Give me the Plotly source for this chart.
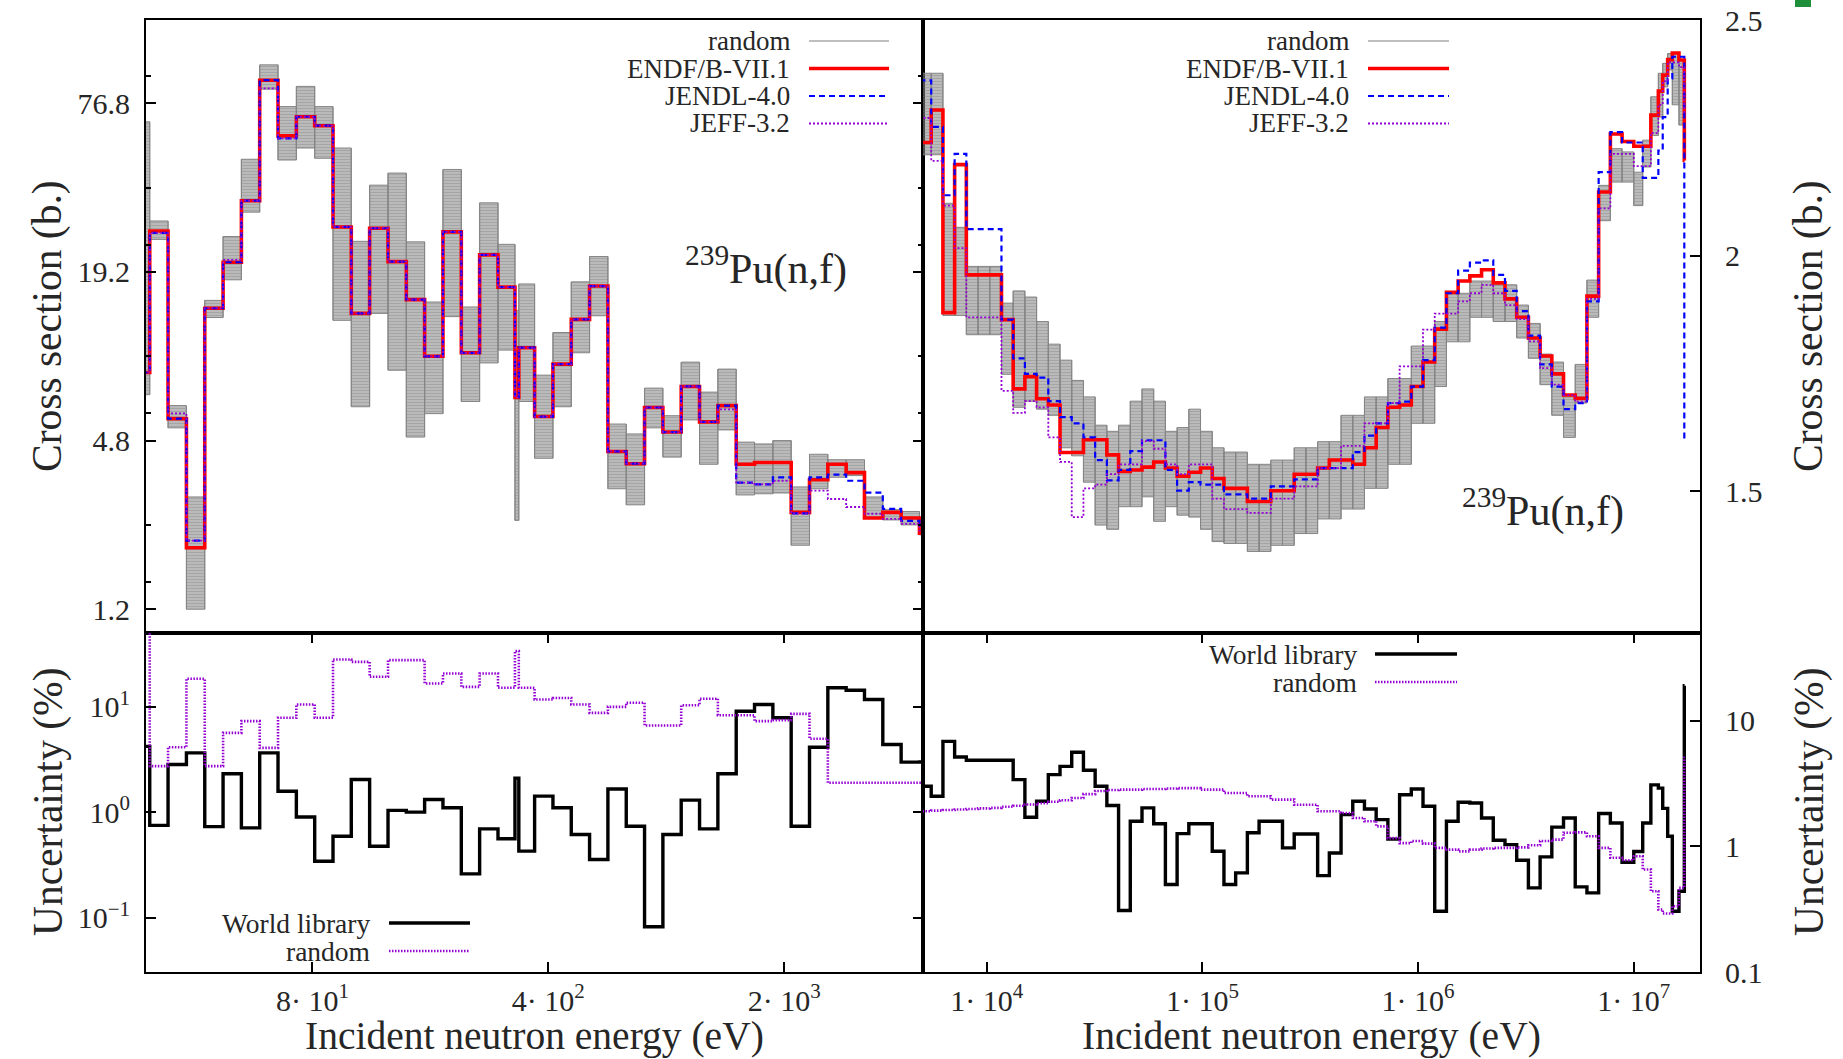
import plotly.graph_objects as go

# ---------------- data : left panels (resonance range) ----------------
E_LEFT = [23.28, 26.38, 29.89, 33.88, 38.39, 43.50, 49.29, 55.85, 63.28, 71.71,
          81.26, 92.08, 104.3, 118.2, 134.0, 151.8, 172.0, 194.9, 220.9, 250.3,
          283.7, 318.5, 327.0, 364.2, 412.7, 467.6, 529.8, 600.4, 680.4, 770.9,
          873.6, 989.9, 1121.8, 1271.1, 1440.4, 1632.1, 1849.5, 2095.7, 2374.8, 2691.0,
          3049.2, 3455.2, 3915.3, 4436.6, 5027.4, 5696.8]

ENDF_LEFT = [8.4, 26.9, 5.75, 1.99, 14.25, 20.8, 34.5, 92.9, 58.8, 68.8,
             63.9, 27.8, 13.66, 27.5, 20.9, 15.3, 9.6, 26.7, 9.88, 22.1,
             16.95, 6.85, 10.3, 5.85, 9.0, 13.0, 17.1, 4.39, 3.97, 6.3,
             5.15, 7.49, 5.6, 6.4, 3.95, 4.01, 4.01, 2.66, 3.48, 3.95,
             3.69, 2.54, 2.66, 2.54, 2.24]
JENDL_LEFT = [8.4, 26.5, 5.75, 2.11, 14.25, 20.8, 34.5, 92.9, 57.6, 68.8,
              63.9, 27.8, 13.66, 27.5, 20.9, 15.3, 9.6, 26.7, 9.88, 22.1,
              16.95, 6.85, 10.3, 5.85, 9.0, 13.0, 17.1, 4.39, 3.97, 6.3,
              5.15, 7.49, 5.6, 6.4, 3.4, 3.35, 3.55, 2.64, 3.55, 3.63,
              3.45, 3.13, 2.74, 2.48, 2.37]
JEFF_LEFT = [8.4, 26.5, 6.0, 2.11, 14.25, 21.2, 34.5, 86.9, 57.6, 68.8,
             63.9, 27.8, 13.66, 27.5, 20.9, 15.3, 9.6, 26.7, 9.88, 22.1,
             16.95, 6.85, 10.3, 5.85, 9.0, 13.0, 17.1, 4.39, 3.97, 6.3,
             5.15, 7.49, 5.6, 6.2, 3.4, 3.35, 3.45, 2.64, 3.18, 2.97,
             2.78, 2.63, 2.52, 2.42, 2.29]
RAND_LO_LEFT = [7.0, 25.1, 5.33, 1.2, 13.2, 18.0, 31.4, 86.3, 48.2, 53.2,
                48.9, 12.9, 6.34, 13.66, 8.56, 4.94, 5.99, 13.3, 6.62, 9.09,
                10.1, 2.49, 6.62, 4.15, 6.34, 9.88, 13.4, 3.23, 2.83, 5.33,
                4.19, 5.69, 3.95, 5.24, 3.07, 3.1, 3.12, 2.03, 3.23, 3.55,
                3.6, 2.54, 2.5, 2.4, 2.21]
RAND_HI_LEFT = [66.0, 29.2, 6.4, 3.02, 15.2, 25.7, 48.5, 105.4, 74.8, 88.3,
                74.8, 53.2, 24.7, 39.2, 43.3, 24.6, 15.0, 44.6, 14.4, 33.9,
                24.1, 14.0, 17.4, 8.22, 11.67, 17.7, 21.8, 5.5, 5.07, 7.39,
                5.89, 9.15, 7.15, 8.64, 4.74, 4.67, 4.8, 3.28, 4.29, 4.1,
                4.1, 3.02, 2.72, 2.68, 2.39]
UNC_WORLD_LEFT = [4.2, 0.75, 2.83, 3.65, 0.73, 2.31, 0.71, 3.65, 1.58, 0.90,
                  0.343, 0.592, 2.04, 0.476, 1.04, 1.0, 1.32, 1.10, 0.26, 0.695,
                  0.559, 2.1, 0.427, 1.42, 1.10, 0.614, 0.356, 1.66, 0.736, 0.0819,
                  0.614, 1.30, 0.695, 2.31, 9.06, 10.5, 7.84, 0.736, 4.13, 15.1,
                  14.3, 11.7, 4.38, 2.98, 3.0]
UNC_RAND_LEFT = [60.0, 2.73, 4.13, 18.4, 2.73, 5.65, 7.29, 4.07, 7.84, 10.5,
                 7.84, 28.0, 26.6, 19.2, 27.6, 27.6, 16.6, 20.6, 15.4, 20.6,
                 15.1, 33.6, 15.1, 11.7, 12.1, 10.5, 8.74, 9.96, 10.9, 6.63,
                 6.63, 10.3, 11.9, 8.3, 8.3, 7.29, 7.45, 8.55, 4.96, 1.90,
                 1.90, 1.90, 1.90, 1.90, 1.90]

# ---------------- data : right panels (fast range) ----------------
E_RIGHT = [4881.0, 5530.9, 6267.3, 7101.7, 8047.3, 9118.8, 10333, 11709, 13268, 15034,
           17036, 19305, 21875, 24787, 28088, 31828, 36066, 40868, 46309, 52475,
           59462, 67379, 76351, 86517, 98036, 111090, 125881, 142642, 161634, 183156,
           207545, 235177, 266491, 301974, 342181, 387742, 439369, 497871, 564161, 639279,
           724398, 820850, 930145, 1053992, 1194329, 1353353, 1533550, 1737739, 1969117, 2231302,
           2528396, 2865048, 3246525, 3678794, 4168620, 4723666, 5352614, 6065307, 6872893, 7788008,
           8824969, 1.0e7, 1.1e7, 1.2e7, 1.3e7, 1.362e7, 1.436e7, 1.509e7, 1.62e7, 1.715e7,
           1.72e7]
ENDF_RIGHT = [2.24, 2.309, 1.879, 2.193, 1.959, 1.959, 1.959, 1.864, 1.717, 1.743,
              1.696, 1.683, 1.582, 1.582, 1.609, 1.609, 1.577, 1.542, 1.545, 1.551,
              1.562, 1.549, 1.532, 1.54, 1.549, 1.527, 1.506, 1.506, 1.478, 1.478,
              1.501, 1.501, 1.536, 1.536, 1.549, 1.566, 1.566, 1.557, 1.592, 1.635,
              1.678, 1.683, 1.722, 1.774, 1.844, 1.922, 1.946, 1.957, 1.970, 1.942,
              1.908, 1.869, 1.825, 1.787, 1.749, 1.704, 1.697, 1.914, 2.135, 2.258,
              2.242, 2.232, 2.232, 2.298, 2.349, 2.383, 2.416, 2.43, 2.415, 2.202]
JENDL_RIGHT = [2.372, 2.273, 2.128, 2.216, 2.056, 2.056, 2.056, 1.864, 1.782, 1.749,
               1.741, 1.691, 1.657, 1.644, 1.614, 1.566, 1.523, 1.545, 1.585, 1.608,
               1.608, 1.545, 1.501, 1.519, 1.514, 1.514, 1.493, 1.493, 1.484, 1.484,
               1.51, 1.51, 1.525, 1.525, 1.549, 1.549, 1.549, 1.583, 1.618, 1.644,
               1.687, 1.69, 1.722, 1.778, 1.847, 1.92, 1.968, 1.985, 1.99, 1.959,
               1.925, 1.882, 1.83, 1.769, 1.722, 1.674, 1.687, 1.903, 2.177, 2.262,
               2.24, 2.24, 2.165, 2.165, 2.223, 2.294, 2.376, 2.422, 2.422, 1.61]
JEFF_RIGHT = [2.292, 2.201, 2.106, 2.016, 1.869, 1.869, 1.869, 1.713, 1.666, 1.691,
              1.678, 1.614, 1.562, 1.445, 1.506, 1.514, 1.536, 1.557, 1.557, 1.606,
              1.59, 1.557, 1.536, 1.557, 1.557, 1.484, 1.462, 1.462, 1.454, 1.454,
              1.484, 1.484, 1.51, 1.51, 1.549, 1.549, 1.596, 1.596, 1.644, 1.644,
              1.687, 1.765, 1.765, 1.843, 1.877, 1.877, 1.903, 1.92, 1.938, 1.92,
              1.895, 1.865, 1.818, 1.761, 1.726, 1.704, 1.69, 1.908, 2.10, 2.216,
              2.216, 2.19, 2.19, 2.26, 2.32, 2.37, 2.41, 2.41, 2.40, 2.3]
RAND_LO_RIGHT = [2.214, 2.214, 1.873, 1.873, 1.832, 1.832, 1.832, 1.748, 1.678, 1.691,
                 1.674, 1.661, 1.592, 1.575, 1.519, 1.428, 1.419, 1.467, 1.467, 1.488,
                 1.436, 1.467, 1.449, 1.445, 1.419, 1.393, 1.389, 1.389, 1.372, 1.372,
                 1.385, 1.385, 1.41, 1.41, 1.441, 1.441, 1.462, 1.462, 1.506, 1.506,
                 1.557, 1.557, 1.644, 1.644, 1.722, 1.817, 1.817, 1.869, 1.869, 1.86,
                 1.86, 1.825, 1.782, 1.726, 1.661, 1.614, 1.687, 1.869, 2.074, 2.156,
                 2.156, 2.106, 2.188, 2.255, 2.294, 2.358, 2.394, 2.32, 2.277, 2.277]
RAND_HI_RIGHT = [2.387, 2.387, 2.111, 2.06, 1.977, 1.977, 1.977, 1.899, 1.925, 1.912,
                 1.86, 1.812, 1.778, 1.735, 1.70, 1.64, 1.627, 1.64, 1.691, 1.717,
                 1.691, 1.627, 1.635, 1.674, 1.627, 1.592, 1.583, 1.583, 1.557, 1.557,
                 1.566, 1.566, 1.592, 1.592, 1.605, 1.605, 1.661, 1.661, 1.70, 1.70,
                 1.739, 1.739, 1.808, 1.808, 1.86, 1.92, 1.92, 1.946, 1.946, 1.938,
                 1.938, 1.895, 1.856, 1.791, 1.774, 1.70, 1.769, 1.948, 2.149, 2.227,
                 2.22, 2.177, 2.245, 2.337, 2.387, 2.408, 2.429, 2.429, 2.415, 2.415]
UNC_WORLD_RIGHT = [3.0, 2.50, 6.83, 5.13, 4.83, 4.83, 4.83, 4.83, 3.39, 1.70,
                   2.28, 3.71, 4.32, 5.6, 4.02, 3.0, 2.11, 0.308, 1.58, 2.02,
                   1.51, 0.496, 1.26, 1.51, 1.51, 0.912, 0.496, 0.614, 1.28, 1.58,
                   1.58, 0.97, 1.25, 1.25, 0.584, 0.885, 1.785, 2.28, 1.98, 1.63,
                   1.14, 2.57, 2.855, 2.08, 0.304, 1.58, 2.24, 2.21, 1.68, 1.116,
                   1.03, 0.774, 0.467, 0.823, 1.42, 1.68, 0.475, 0.426, 1.82, 1.53,
                   0.746, 0.908, 1.53, 3.08, 2.9, 2.0, 1.2, 0.304, 0.439, 18.9]
UNC_RAND_RIGHT = [1.90, 1.92, 1.94, 1.96, 1.98, 2.0, 2.02, 2.06, 2.1, 2.15,
                  2.2, 2.26, 2.32, 2.42, 2.6, 2.75, 2.8, 2.82, 2.82, 2.85,
                  2.85, 2.88, 2.9, 2.9, 2.82, 2.82, 2.65, 2.65, 2.5, 2.5,
                  2.35, 2.35, 2.14, 2.14, 1.90, 1.90, 1.84, 1.68, 1.58, 1.44,
                  1.16, 1.06, 1.10, 1.05, 0.97, 0.94, 0.91, 0.94, 0.96, 0.97,
                  0.97, 0.98, 1.02, 1.10, 1.13, 1.28, 1.29, 1.2, 0.97, 0.81,
                  0.774, 0.833, 0.653, 0.439, 0.314, 0.292, 0.292, 0.333, 0.467, 5.05]

# axis tick definitions
XT_LEFT = [80, 400, 2000]
XT_LEFT_TXT = ["8· 10<sup>1</sup>", "4· 10<sup>2</sup>", "2· 10<sup>3</sup>"]
XT_RIGHT = [1e4, 1e5, 1e6, 1e7]
XT_RIGHT_TXT = ["1· 10<sup>4</sup>", "1· 10<sup>5</sup>", "1· 10<sup>6</sup>", "1· 10<sup>7</sup>"]
YT_XS = [1.2, 4.8, 19.2, 76.8]
YT_XS_MINOR = [1.5, 2.4, 6, 9.6, 24, 38.4, 96]
YT_XS2 = [1.5, 2, 2.5]
YT_UNC = [0.1, 1, 10]

# ---------------- style ----------------
FONT = "Liberation Serif"
TXT = "#262626"
GRAY = "#808080"
RED = "#ff0000"
BLUE = "#0000ff"
VIOLET = "#9400d3"

W, H = 1843, 1059
ML, MR, MT, MB = 146, 143, 20, 87
PW = W - ML - MR
PH = H - MT - MB


def px(x):
    return (x - ML) / PW


def py(y):
    return (H - MB - y) / PH


def steps(edges, vals):
    return list(edges), list(vals) + [vals[-1]]


def band(edges, lo, hi):
    xs, ys = [], []
    for i in range(len(lo)):
        x0, x1 = edges[i], edges[i + 1]
        xs += [x0, x1, x1, x0, x0, None]
        ys += [lo[i], lo[i], hi[i], hi[i], lo[i], None]
    return xs, ys


def connectors(edges, lo, hi):
    xs, ys = [], []
    for i in range(1, len(lo)):
        xs += [edges[i], edges[i], None]
        ys += [min(lo[i - 1], lo[i]), max(hi[i - 1], hi[i]), None]
    return xs, ys


fig = go.Figure()


def add_panel(edges, lo, hi, endf, jendl, jeff, xa, ya):
    bx, by = band(edges, lo, hi)
    fig.add_trace(go.Scatter(x=bx, y=by, mode="lines", fill="toself",
                             fillcolor="rgba(128,128,128,0.5)",
                             fillpattern=dict(shape="-", fgcolor="#7a7a7a",
                                              bgcolor="rgba(135,135,135,0.38)",
                                              size=3, solidity=0.7),
                             line=dict(color="#858585", width=1),
                             xaxis=xa, yaxis=ya, showlegend=False, hoverinfo="skip"))
    cx, cy = connectors(edges, lo, hi)
    fig.add_trace(go.Scatter(x=cx, y=cy, mode="lines", line=dict(color="#858585", width=1),
                             xaxis=xa, yaxis=ya, showlegend=False, hoverinfo="skip"))
    for vals, col, wd, dash in [(endf, RED, 3.6, "solid"),
                                (jendl, BLUE, 2.2, "6px,4px"),
                                (jeff, VIOLET, 1.8, "2px,2px")]:
        sx, sy = steps(edges, vals)
        fig.add_trace(go.Scatter(x=sx, y=sy, mode="lines",
                                 line=dict(shape="hv", color=col, width=wd, dash=dash),
                                 xaxis=xa, yaxis=ya, showlegend=False, hoverinfo="skip"))


def add_unc(edges, world, rand, xa, ya):
    sx, sy = steps(edges, world)
    fig.add_trace(go.Scatter(x=sx, y=sy, mode="lines",
                             line=dict(shape="hv", color="black", width=3.4),
                             xaxis=xa, yaxis=ya, showlegend=False, hoverinfo="skip"))
    sx, sy = steps(edges, rand)
    fig.add_trace(go.Scatter(x=sx, y=sy, mode="lines",
                             line=dict(shape="hv", color=VIOLET, width=2.6, dash="1.5px,1.5px"),
                             xaxis=xa, yaxis=ya, showlegend=False, hoverinfo="skip"))


add_panel(E_LEFT, RAND_LO_LEFT, RAND_HI_LEFT, ENDF_LEFT, JENDL_LEFT, JEFF_LEFT, "x", "y")
add_panel(E_RIGHT, RAND_LO_RIGHT, RAND_HI_RIGHT, ENDF_RIGHT, JENDL_RIGHT, JEFF_RIGHT, "x2", "y2")
add_unc(E_LEFT, UNC_WORLD_LEFT, UNC_RAND_LEFT, "x3", "y3")
add_unc(E_RIGHT, UNC_WORLD_RIGHT, UNC_RAND_RIGHT, "x4", "y4")

BOT = 339.5 / PH
axis_common = dict(showline=True, linecolor="black", linewidth=2, showgrid=False,
                   zeroline=False, tickcolor="black", tickwidth=2, ticklen=10,
                   automargin=False,
                   tickfont=dict(family=FONT, size=30, color=TXT))

fig.update_layout(
    width=W, height=H, autosize=False,
    margin=dict(l=ML, r=MR, t=MT, b=MB, pad=0, autoexpand=False),
    paper_bgcolor="white", plot_bgcolor="white", showlegend=False,
    font=dict(family=FONT, color=TXT),
    xaxis=dict(axis_common, domain=[0, 0.5], type="log", range=[1.4102, 3.7118],
               anchor="y", mirror=True, ticks="", showticklabels=False),
    yaxis=dict(axis_common, domain=[BOT, 1], type="log", range=[-0.004, 2.183],
               anchor="x", mirror="ticks", ticks="inside", tickmode="array",
               tickvals=YT_XS, ticktext=[str(v) for v in YT_XS], ticklabelstandoff=8,
               minor=dict(tickmode="array", tickvals=YT_XS_MINOR, ticks="inside",
                          ticklen=5, tickwidth=1.5, tickcolor="black")),
    xaxis2=dict(axis_common, domain=[0.5, 1], type="log", range=[3.7047, 7.307],
                anchor="y2", mirror=True, ticks="", showticklabels=False),
    yaxis2=dict(axis_common, domain=[BOT, 1], range=[1.2, 2.5], anchor="x2", side="right",
                mirror=True, ticks="inside", tickmode="array", tickvals=YT_XS2,
                ticktext=["1.5", "2", "2.5"], ticklabelstandoff=17),
    xaxis3=dict(axis_common, domain=[0, 0.5], type="log", range=[1.4102, 3.7118],
                anchor="y3", mirror="ticks", ticks="inside", tickmode="array",
                tickvals=XT_LEFT, ticktext=XT_LEFT_TXT, ticklabelstandoff=1),
    yaxis3=dict(axis_common, domain=[0, BOT], type="log", range=[-1.515, 1.703],
                anchor="x3", mirror="ticks", ticks="inside", tickmode="array",
                tickvals=YT_UNC, ticktext=["10<sup>−1</sup>", "10<sup>0</sup>", "10<sup>1</sup>"],
                ticklabelstandoff=8),
    xaxis4=dict(axis_common, domain=[0.5, 1], type="log", range=[3.7047, 7.307],
                anchor="y4", mirror="ticks", ticks="inside", tickmode="array",
                tickvals=XT_RIGHT, ticktext=XT_RIGHT_TXT, ticklabelstandoff=1),
    yaxis4=dict(axis_common, domain=[0, BOT], type="log", range=[-1, 1.70],
                anchor="x4", side="right", mirror=True, ticks="inside", tickmode="array",
                tickvals=YT_UNC, ticktext=["0.1", "1", "10"], ticklabelstandoff=17),
)

ann = []
shapes = []


def label(x, y, text, size, angle=0, xanchor="center"):
    ann.append(dict(x=px(x), y=py(y), xref="paper", yref="paper", text=text,
                    showarrow=False, textangle=angle, xanchor=xanchor, yanchor="middle",
                    borderpad=0, font=dict(family=FONT, size=size, color=TXT)))


def sample(x0, x1, y, color, width, dash="solid"):
    shapes.append(dict(type="line", xref="paper", yref="paper", x0=px(x0), x1=px(x1),
                       y0=py(y), y1=py(y), line=dict(color=color, width=width, dash=dash)))


# axis titles
label(48, 326, "Cross section (b.)", 41.5, -90)
label(1809, 326, "Cross section (b.)", 41.5, -90)
label(48, 802, "Uncertainty (%)", 41.5, -90)
label(1809, 802, "Uncertainty (%)", 41.5, -90)
label(534.5, 1036, "Incident neutron energy (eV)", 39.5)
label(1311.5, 1036, "Incident neutron energy (eV)", 39.5)

# reaction labels
label(766, 266, "<sup>239</sup>Pu(n,f)", 42)
label(1543, 508, "<sup>239</sup>Pu(n,f)", 42)

# legends, top panels
LEG_ROWS = [41, 68.5, 96, 123.5]
LEG_TXT = ["random", "ENDF/B-VII.1", "JENDL-4.0", "JEFF-3.2"]
LEG_STY = [(GRAY, 1.2, "solid"), (RED, 3.6, "solid"), (BLUE, 2.2, "6px,4px"), (VIOLET, 1.8, "2px,2px")]
for tx_end, l0, l1 in [(791, 809, 889), (1350, 1368, 1449)]:
    for yy, t, (c, w_, d) in zip(LEG_ROWS, LEG_TXT, LEG_STY):
        label(tx_end, yy, t, 27, xanchor="right")
        sample(l0, l1, yy, c, w_, d)

# legends, bottom panels
for tx_end, l0, l1, rows in [(371, 389, 470, [923, 951]), (1358, 1375, 1457, [654, 682])]:
    label(tx_end, rows[0], "World library", 27.5, xanchor="right")
    sample(l0, l1, rows[0], "black", 3.4)
    label(tx_end, rows[1], "random", 27.5, xanchor="right")
    sample(l0, l1, rows[1], VIOLET, 2.6, "1.5px,1.5px")

# small green mark at the top right corner
shapes.append(dict(type="rect", xref="paper", yref="paper", x0=px(1795), x1=px(1811),
                   y0=py(7), y1=py(0), line=dict(width=0), fillcolor="#1f8f3c"))

fig.update_layout(annotations=ann, shapes=shapes)
fig.write_html("out.html")
